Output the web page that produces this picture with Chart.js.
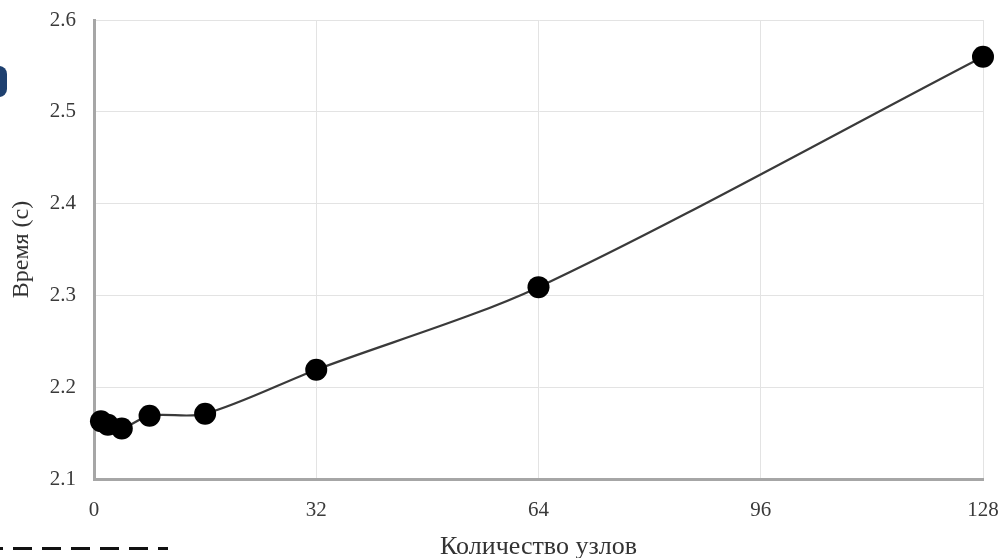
<!DOCTYPE html>
<html>
<head>
<meta charset="utf-8">
<script src="https://cdn.jsdelivr.net/npm/chart.js@4"></script>
<style>
  html, body { margin: 0; padding: 0; background: #fff; }
  #wrap { position: relative; width: 1002px; height: 558px; }
  #c { position: absolute; left: 0; top: 0; }
  #blue { position: absolute; left: -10px; top: 66px; width: 17px; height: 31px; background: #1e406f; border-radius: 8px; }
  #dash { position: absolute; left: 0; top: 547px; width: 168px; height: 3px;
          background: repeating-linear-gradient(90deg, #111 0 3px, transparent 3px 13px, #111 13px 29px, transparent 29px 29px); background-size: 29px 3px; }
</style>
</head>
<body>
<div id="wrap">
  <canvas id="c" width="1002" height="558"></canvas>
  <div id="blue"></div>
  <div id="dash"></div>
</div>
<script>
const nodes = [1, 2, 4, 8, 16, 32, 64, 128];
const times = [2.163, 2.159, 2.155, 2.169, 2.171, 2.219, 2.309, 2.560];
const xTicks = [0, 32, 64, 96, 128];
const yTicks = [2.1, 2.2, 2.3, 2.4, 2.5, 2.6];
const xTitle = 'Количество узлов';
const yTitle = 'Время (с)';

const serif = "'Liberation Serif', 'DejaVu Serif', serif";

new Chart(document.getElementById('c'), {
  type: 'scatter',
  data: {
    datasets: [{
      data: nodes.map((n, i) => ({ x: n, y: times[i] })),
      showLine: true,
      clip: false,
      borderColor: '#3a3a3a',
      borderWidth: 2.2,
      tension: 0.3,
      pointRadius: 11,
      pointHoverRadius: 11,
      pointBackgroundColor: '#000',
      pointBorderColor: '#000',
      pointBorderWidth: 0
    }]
  },
  options: {
    responsive: false,
    animation: false,
    plugins: { legend: { display: false }, tooltip: { enabled: false } },
    layout: { padding: { top: 20, right: 19, left: 0, bottom: 0 } },
    scales: {
      x: {
        type: 'linear',
        min: xTicks[0],
        max: xTicks[xTicks.length - 1],
        afterBuildTicks: s => { s.ticks = xTicks.map(v => ({ value: v })); },
        afterFit: s => { s.height = 79; s.paddingLeft = 0; s.paddingRight = 0; },
        border: { color: '#a6a6a6', width: 3 },
        grid: { color: '#e3e3e3', lineWidth: 1, drawTicks: false },
        ticks: { color: '#3a3a3a', font: { family: serif, size: 21 }, padding: 19 },
        title: { display: true, text: xTitle, color: '#333', font: { family: serif, size: 26, lineHeight: 1.0 }, padding: { top: 0, bottom: -2 } }
      },
      y: {
        min: yTicks[0],
        max: yTicks[yTicks.length - 1],
        afterBuildTicks: s => { s.ticks = yTicks.map(v => ({ value: v })); },
        afterFit: s => { s.width = 94; s.paddingTop = 0; s.paddingBottom = 0; },
        border: { color: '#a6a6a6', width: 3 },
        grid: { color: '#e3e3e3', lineWidth: 1, drawTicks: false },
        ticks: { color: '#3a3a3a', font: { family: serif, size: 21 }, padding: 18, callback: v => v.toFixed(1) },
        title: { display: true, text: yTitle, color: '#333', font: { family: serif, size: 24, lineHeight: 1.2 }, padding: { top: 7, bottom: 0 } }
      }
    }
  }
});
</script>
</body>
</html>
